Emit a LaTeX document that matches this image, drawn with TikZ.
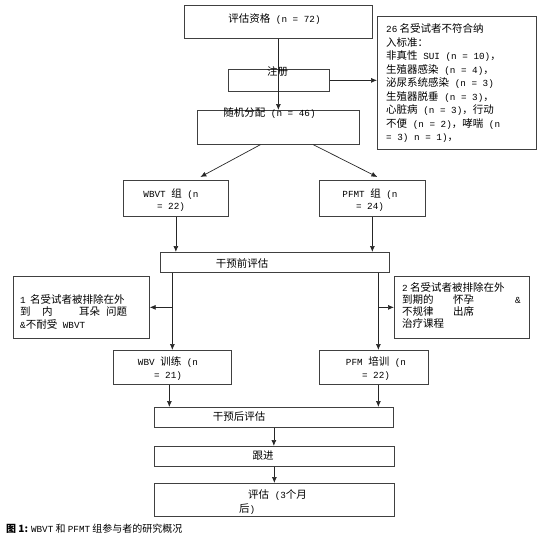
\documentclass[tikz,border=0pt]{standalone}
\usepackage{fontspec}
\setmainfont{Noto Sans CJK SC}
\setmonofont{Liberation Mono}
\usetikzlibrary{arrows.meta,calc}
\newcommand\mn[1]{{\ttfamily\fontsize{9.3}{12}\selectfont #1}}
\begin{document}
\begin{tikzpicture}[x=1pt,y=-1pt,
  box/.style={draw=black!75, line width=0.7pt, inner sep=0pt, anchor=north west},
  arr/.style={draw=black!85, line width=0.7pt, -{Latex[length=6pt,width=5pt]}},
  txt/.style={inner sep=0pt, text=black, font=\fontsize{10.5}{12.5}\selectfont},
  ltxt/.style={txt, anchor=west, align=left}]
\useasboundingbox (0,0) rectangle (554,538);
% boxes
\node[box, minimum width=188pt, minimum height=33pt] (elig) at (184,5) {};
\node[box, minimum width=101pt, minimum height=22pt] (enrol) at (228,69) {};
\node[box, minimum width=162pt, minimum height=34pt] (rand) at (197,110) {};
\node[box, minimum width=159pt, minimum height=133pt] (excl1) at (377,16) {};
\node[box, minimum width=105pt, minimum height=36pt] (wbvt) at (123,180) {};
\node[box, minimum width=106pt, minimum height=36pt] (pfmt) at (319,180) {};
\node[box, minimum width=229pt, minimum height=20pt] (pre) at (160,252) {};
\node[box, minimum width=136pt, minimum height=62pt] (exclL) at (13,276) {};
\node[box, minimum width=135pt, minimum height=62pt] (exclR) at (394,276) {};
\node[box, minimum width=118pt, minimum height=34pt] (wbv) at (113,350) {};
\node[box, minimum width=109pt, minimum height=34pt] (pfm) at (319,350) {};
\node[box, minimum width=239pt, minimum height=20pt] (post) at (154,407) {};
\node[box, minimum width=240pt, minimum height=20pt] (follow) at (154,446) {};
\node[box, minimum width=240pt, minimum height=33pt] (eval3) at (154,483) {};
% texts
\node[txt] (t1) at (274.5,19) {评估资格\mn{ (n = 72)}};
\node[txt] (t2) at (277.5,72) {注册};
\node[txt] (t3) at (269.5,113) {随机分配\mn{ (n = 46)}};
\node[ltxt, font=\fontsize{10.5}{13.5}\selectfont] (t4) at (386,83.5) {\mn{26} 名受试者不符合纳\\入标准：\\非真性\mn{ SUI (n = 10)}，\\生殖器感染\mn{ (n = 4)}，\\泌尿系统感染\mn{ (n = 3)}\\生殖器脱垂\mn{ (n = 3)}，\\心脏病\mn{ (n = 3)}，行动\\不便\mn{ (n = 2)}，哮喘\mn{ (n}\\\mn{= 3) n = 1)}，};
\node[txt, align=center] (t5) at (171,200) {\mn{WBVT }组\mn{ (n}\\\mn{= 22)}};
\node[txt, align=center] (t6) at (370,200) {\mn{PFMT }组\mn{ (n}\\\mn{= 24)}};
\node[txt] (t7) at (242,263) {干预前评估};
\node[ltxt] (t8) at (20,311.5) {\mn{1}\hspace{2pt} 名受试者被排除在外\\\makebox[22pt][l]{到}\makebox[37pt][l]{内}耳朵\hspace{6pt}问题\\\mn{\&}不耐受\mn{ WBVT}};
\node[ltxt, font=\fontsize{10.5}{12.3}\selectfont] (t9) at (402,305.5) {\mn{2} 名受试者被排除在外\\\makebox[51pt][l]{到期的}\makebox[62pt][l]{怀孕}\mn{\&}\\\makebox[51pt][l]{不规律}出席\\治疗课程};
\node[txt, align=center] (t10) at (168,368.5) {\mn{WBV }训练\mn{ (n}\\\mn{= 21)}};
\node[txt, align=center] (t11) at (376,368.5) {\mn{PFM }培训\mn{ (n}\\\mn{= 22)}};
\node[txt] (t12) at (239,417) {干预后评估};
\node[txt] (t13) at (263,456) {跟进};
\node[ltxt, font=\fontsize{10.5}{14}\selectfont] (t14) at (239,502) {\hspace*{9pt}评估\mn{ (3}个月\\后\mn{)}};
\node[txt, anchor=west, font=\fontsize{10}{12}\selectfont] (cap) at (6,529) {\textbf{图 1:} \mn{WBVT} 和 \mn{PFMT} 组参与者的研究概况};
% connectors
\draw[arr] (elig.south) -- (rand.north);
\draw[arr] (enrol.east) -- (enrol.east -| excl1.west);
\draw[arr] ($(rand.south)+(-18,0)$) -- ($(wbvt.north)+(24.5,-3)$);
\draw[arr] ($(rand.south)+(35,0)$) -- ($(pfmt.north)+(5,-3)$);
\draw[arr] (wbvt.south) -- (wbvt.south |- pre.north);
\draw[arr] (pfmt.south) -- (pfmt.south |- pre.north);
\draw[arr] (wbv.north |- pre.south) -- (wbv.north);
\draw[arr] (wbv.north |- exclL.east) -- (exclL.east);
\coordinate (rtop) at ($(pfm.north)+(4.5,0)$);
\draw[arr] (rtop |- pre.south) -- (rtop);
\draw[arr] (rtop |- exclR.west) -- (exclR.west);
\coordinate (wb) at ($(wbv.south)+(-3,0)$);
\draw[arr] (wb) -- (wb |- post.north);
\coordinate (pb) at ($(pfm.south)+(4.5,0)$);
\draw[arr] (pb) -- (pb |- post.north);
\draw[arr] (post.south) -- (post.south |- follow.north);
\draw[arr] (follow.south) -- (follow.south |- eval3.north);
\end{tikzpicture}
\end{document}
